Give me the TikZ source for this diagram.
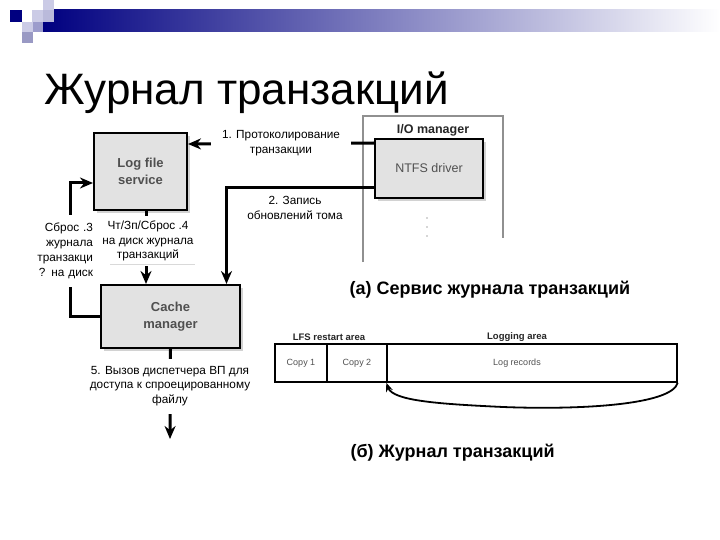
\documentclass[tikz,border=0pt]{standalone}
\usepackage{fontspec}
\setmainfont{Liberation Sans}
\usepackage{tikz}
\usetikzlibrary{arrows.meta, positioning, shadows}

\definecolor{navy}{HTML}{000080}
\definecolor{lavlight}{HTML}{CBCBE6}
\definecolor{lavmid}{HTML}{9C9CCC}
\definecolor{boxfill}{HTML}{E2E2E2}
\definecolor{boxtext}{HTML}{505050}
\definecolor{iogray}{HTML}{909090}

\tikzset{
  box/.style={draw=black, line width=2pt, fill=boxfill, align=center,
    text=boxtext, font=\fontsize{13}{17}\selectfont\bfseries,
    drop shadow={shadow xshift=3pt, shadow yshift=-3pt, fill=gray!35, opacity=1}},
  conn/.style={line width=3pt, -{Stealth[length=13pt, width=11pt]}},
  lbl/.style={align=center, font=\fontsize{11.8}{14.8}\selectfont, fill=white, inner sep=1pt},
  cell/.style={draw=black, line width=1.4pt, minimum height=38pt,
    font=\fontsize{9}{11}\selectfont, text=boxtext},
  hdr/.style={font=\fontsize{9.5}{11}\selectfont\bfseries, text=black!85},
}

\begin{document}
\begin{tikzpicture}[x=1pt, y=-1pt]
    \useasboundingbox (0,0) rectangle (720,540);

    % Slide decoration
    \shade[left color=navy, right color=white] (43,10) rectangle (720,32);
    \fill[lavlight] (43,0) rectangle (54,10);
    \fill[lavmid!70] (43,10) rectangle (54,22);
    \fill[navy] (10,10) rectangle (22,22);
    \fill[lavlight] (32,10) rectangle (43,22);
    \fill[lavlight] (22,22) rectangle (33,32);
    \fill[lavmid] (33,22) rectangle (43,32);
    \fill[lavmid!90!gray] (22,32) rectangle (33,43);

    % Title
    \node[anchor=base west, font=\fontsize{44}{50}\selectfont] (title) at (41,105)
        {Журнал транзакций};

    % I/O manager frame
    \draw[iogray, line width=2pt] (363,262) |- (503,116) -- (503,238);
    \node[font=\fontsize{12.5}{14}\selectfont\bfseries, text=black!85] (iomgr) at (433,130) {I/O manager};
    \foreach \y in {218,227,236}
        \fill[black!70] (427,\y) circle (0.7);

    % Boxes
    \node[box, minimum width=93pt, minimum height=77pt] (logsvc) at (140.5,171.5) {Log file\\service};
    \node[box, minimum width=139pt, minimum height=63pt] (cache) at (170.5,316.5) {Cache\\manager};
    \node[box, minimum width=108pt, minimum height=59pt, font=\fontsize{12.5}{14}\selectfont] (ntfs) at (429,168.5) {NTFS driver};

    % 1. logging
    \draw[conn] ([yshift=-5pt]ntfs.north west) -- ([yshift=27.5pt]logsvc.east)
        node[lbl, midway, minimum width=140pt] (l1) {1. Протоколирование\\транзакции};

    % 2. volume updates
    \draw[conn] ([yshift=-19.5pt]ntfs.west) -| ([xshift=56pt]cache.north);
    \node[lbl] (l2) at (295,208) {2. Запись\\обновлений тома};

    % 3. flush log
    \coordinate (c3) at (70,183);
    \draw[conn] (cache.west) -- (cache.west -| c3) -- (c3) -- (logsvc.west |- c3);
    \node[lbl, align=right, text width=58pt, minimum height=72pt] (l3) at (64,251)
        {Сброс .3\\журнала\\транзакци\\? на диск};

    % 4. read/write/flush
    \draw[conn] ([xshift=5.5pt]logsvc.south) -- ([xshift=-24.5pt]cache.north);
    \node[lbl, minimum height=50pt] (l4) at (148,241)
        {Чт/Зп/Сброс .4\\на диск журнала\\транзакций};
    \draw[black!15, line width=0.8pt] (110,264) -- (195,264);

    % 5. VM manager call
    \coordinate (c5) at (170,439);
    \draw[conn] (cache.south) -- (c5);
    \node[lbl, minimum height=55pt] (l5) at (170,386)
        {5. Вызов диспетчера ВП для\\доступа к спроецированному\\файлу};

    % Captions
    \node[anchor=west, font=\fontsize{18}{21}\selectfont\bfseries] (capa) at (346,290)
        {(а) Сервис журнала транзакций};
    \node[anchor=west, font=\fontsize{18}{21}\selectfont\bfseries] (capb) at (347,453)
        {(б) Журнал транзакций};

    % Log file layout
    \node[cell, minimum width=52pt] (copy1) at (301,363) {Copy 1};
    \node[cell, minimum width=60pt] (copy2) at (357,363) {Copy 2};
    \node[cell, minimum width=290pt] (logrec) at (532,363) {};
    \node[font=\fontsize{9}{11}\selectfont, text=boxtext] (logtxt) at (517,363) {Log records};
    \node[hdr] (lfs) at (329,337) {LFS restart area};
    \node[hdr] (logarea) at (517,337) {Logging area};

    \coordinate (bot) at (503,407);
    \draw[line width=1.8pt, -{Stealth[length=9pt, width=7pt]}]
        (logrec.south east) .. controls (672,405) and (580,410) .. (bot)
        .. controls (440,404) and (393,401) .. (logrec.south west);

\end{tikzpicture}
\end{document}
